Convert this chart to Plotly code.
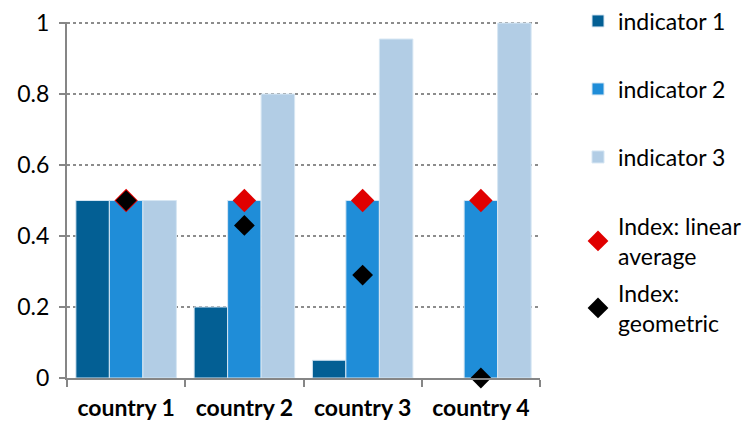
import plotly.graph_objects as go

categories = ["country 1", "country 2", "country 3", "country 4"]
indicator1 = [0.5, 0.2, 0.05, 0.0]
indicator2 = [0.5, 0.5, 0.5, 0.5]
indicator3 = [0.5, 0.8, 0.955, 1.0]
index_linear = [0.5, 0.5, 0.5, 0.5]
index_geometric = [0.5, 0.43, 0.29, 0.0]
y_ticks = [0, 0.2, 0.4, 0.6, 0.8, 1]
y_ticktext = ["0", "0.2", "0.4", "0.6", "0.8", "1"]

FONT = "Lato"
LINE_COLOR = "#d6e6f3"

def bar_line(values):
    # no outline on zero-height bars
    return dict(color=LINE_COLOR, width=[1 if v > 0 else 0 for v in values])

fig = go.Figure()
fig.add_trace(go.Bar(x=categories, y=indicator1, name="indicator 1",
                     marker=dict(color="#035f94", line=bar_line(indicator1)),
                     legend="legend"))
fig.add_trace(go.Bar(x=categories, y=indicator2, name="indicator 2",
                     marker=dict(color="#1f8dd8", line=bar_line(indicator2)),
                     legend="legend2"))
fig.add_trace(go.Bar(x=categories, y=indicator3, name="indicator 3",
                     marker=dict(color="#b2cde5", line=bar_line(indicator3)),
                     legend="legend3"))
fig.add_trace(go.Scatter(x=categories, y=index_linear, mode="markers",
                         name="Index: linear<br>average", cliponaxis=False,
                         marker=dict(symbol="diamond", size=18, color="#e00000"),
                         legend="legend4"))
fig.add_trace(go.Scatter(x=categories, y=index_geometric, mode="markers",
                         name="Index:<br>geometric", cliponaxis=False,
                         marker=dict(symbol="diamond", size=16, color="#000000"),
                         legend="legend5"))

# page body has an 8px margin; figure sized to fit the 751x427 window
OFF = 8
W, H = 743, 419
def leg(ypx):
    return dict(xref="container", yref="container",
                x=(578 - OFF) / W, y=1 - (ypx - OFF) / H,
                xanchor="left", yanchor="middle", bgcolor="rgba(0,0,0,0)",
                font=dict(family=FONT, size=23, color="#000000"),
                itemclick=False, borderwidth=0, visible=True)

fig.update_layout(
    width=W, height=H,
    margin=dict(l=59, r=211, t=14, b=49, autoexpand=False),
    paper_bgcolor="white", plot_bgcolor="white",
    barmode="group", bargap=0.15, bargroupgap=0,
    showlegend=True,
    font=dict(family=FONT, color="#000000"),
    legend=leg(21), legend2=leg(89), legend3=leg(157),
    legend4=leg(241), legend5=leg(308),
    xaxis=dict(
        type="category", showgrid=False, showline=True, linecolor="#868686",
        linewidth=2, ticks="outside", tickson="boundaries", ticklen=7,
        tickcolor="#868686", tickwidth=2, ticklabelstandoff=8,
        ticklabeloverflow="allow",
        tickfont=dict(family=FONT, size=23, color="#000000", weight="bold"),
    ),
    yaxis=dict(
        range=[0, 1.003], tickvals=y_ticks, ticktext=y_ticktext,
        showgrid=True, gridcolor="#8c8c8c", griddash="dot", gridwidth=1.5,
        showline=True, linecolor="#868686", linewidth=2, zeroline=False,
        ticks="outside", ticklen=6, tickcolor="#868686", tickwidth=2,
        ticklabelstandoff=5, ticklabeloverflow="allow",
        tickfont=dict(family=FONT, size=23, color="#000000"),
    ),
)

fig.write_html("out.html")
